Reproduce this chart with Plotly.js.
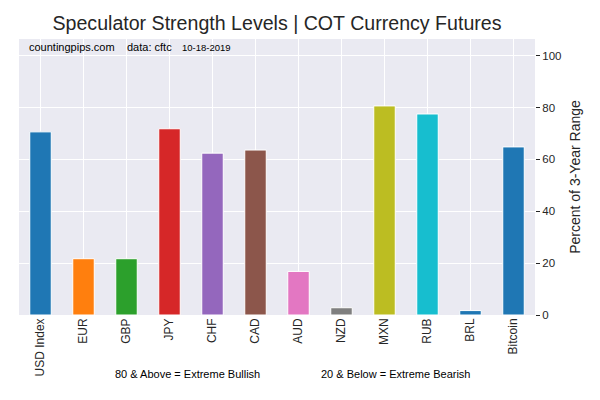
<!DOCTYPE html>
<html>
<head>
<meta charset="utf-8">
<script src="https://cdn.plot.ly/plotly-3.0.1.min.js"></script>
<style>
  html, body { margin: 0; padding: 0; background: #fff; }
  #chart { width: 600px; height: 400px; }
</style>
</head>
<body>
<div id="chart"></div>
<script>
// values
const currencies = ['USD Index', 'EUR', 'GBP', 'JPY', 'CHF', 'CAD', 'AUD', 'NZD', 'MXN', 'RUB', 'BRL', 'Bitcoin'];
const strength = [70.6, 21.7, 21.7, 71.8, 62.4, 63.6, 16.8, 2.8, 80.6, 77.5, 1.7, 64.8];
const barColors = ['#1f77b4', '#ff7f0e', '#2ca02c', '#d62728', '#9467bd', '#8c564b',
                   '#e377c2', '#7f7f7f', '#bcbd22', '#17becf', '#1f77b4', '#1f77b4'];
const yTicks = [0, 20, 40, 60, 80, 100];

const FONT = "'Liberation Sans', Arial, sans-serif";
const TXT = '#262626';

const trace = {
  type: 'bar',
  x: currencies,
  y: strength,
  width: 0.5,
  marker: { color: barColors, line: { color: '#ffffff', width: 1 } },
  hoverinfo: 'x+y'
};

const layout = {
  width: 600,
  height: 400,
  margin: { l: 19, r: 65, t: 39, b: 85 },
  paper_bgcolor: '#ffffff',
  plot_bgcolor: '#eaeaf2',
  font: { family: FONT, color: TXT },
  showlegend: false,
  title: {
    text: 'Speculator Strength Levels | COT Currency Futures',
    font: { family: FONT, size: 19.6, color: TXT },
    x: 0.5, xref: 'paper', xanchor: 'center',
    y: 0.942, yref: 'container', yanchor: 'middle'
  },
  xaxis: {
    type: 'category',
    range: [-0.5, 11.5],
    showgrid: true,
    gridcolor: '#ffffff',
    gridwidth: 1.2,
    ticks: '',
    tickangle: -90,
    tickfont: { family: FONT, size: 12, color: TXT },
    showline: false,
    zeroline: false,
    fixedrange: true
  },
  yaxis: {
    side: 'right',
    range: [0, 106.4],
    tickvals: yTicks,
    showgrid: true,
    gridcolor: '#ffffff',
    gridwidth: 1.2,
    zeroline: false,
    showline: false,
    ticks: 'outside',
    ticklen: 4,
    tickcolor: TXT,
    tickfont: { family: FONT, size: 11.5, color: TXT },
    title: {
      text: 'Percent of 3-Year Range',
      font: { family: FONT, size: 14, color: TXT },
      standoff: 9
    },
    fixedrange: true
  },
  annotations: [
    { text: 'countingpips.com', x: 0.0155, y: 0.97, xref: 'paper', yref: 'paper',
      xanchor: 'left', yanchor: 'middle', showarrow: false,
      font: { family: FONT, size: 11, color: '#000' } },
    { text: 'data: cftc', x: 0.2054, y: 0.97, xref: 'paper', yref: 'paper',
      xanchor: 'left', yanchor: 'middle', showarrow: false,
      font: { family: FONT, size: 11, color: '#000' } },
    { text: '10-18-2019', x: 0.312, y: 0.97, xref: 'paper', yref: 'paper',
      xanchor: 'left', yanchor: 'middle', showarrow: false,
      font: { family: FONT, size: 9.5, color: '#000' } },
    { text: '80 &amp; Above = Extreme Bullish', x: 0.3256, y: -0.215, xref: 'paper', yref: 'paper',
      xanchor: 'center', yanchor: 'middle', showarrow: false,
      font: { family: FONT, size: 11, color: '#000' } },
    { text: '20 &amp; Below = Extreme Bearish', x: 0.7297, y: -0.215, xref: 'paper', yref: 'paper',
      xanchor: 'center', yanchor: 'middle', showarrow: false,
      font: { family: FONT, size: 11, color: '#000' } }
  ]
};

Plotly.newPlot('chart', [trace], layout, { displayModeBar: false, staticPlot: true });
</script>
</body>
</html>
